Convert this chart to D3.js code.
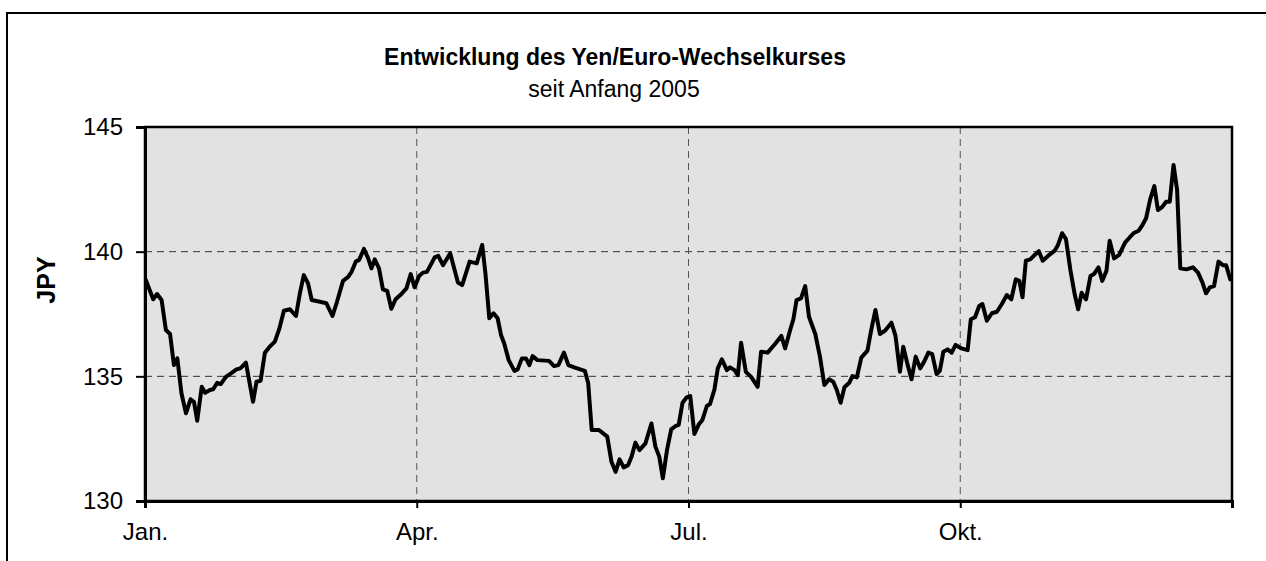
<!DOCTYPE html>
<html lang="de">
<head>
    <meta charset="UTF-8">
    <title>Entwicklung des Yen/Euro-Wechselkurses</title>
    <script src="https://d3js.org/d3.v7.min.js"></script>
    <style>
        body { margin: 0; background: #fff; font-family: "Liberation Sans", Arial, sans-serif; }
        svg { display: block; }
    </style>
</head>
<body>
<div id="chart"></div>
<script>
// days since 1 Jan 2005 and JPY per EUR
const days = [0.3,2.7,4.0,5.5,6.9,8.3,9.6,10.7,12.1,13.6,15.1,16.2,17.3,18.8,19.9,21.5,22.6,23.9,25.1,26.8,
    28.7,30.3,31.6,33.4,35.8,36.9,38.3,39.7,41.1,43.0,44.4,46.0,48.0,50.0,51.3,52.6,54.0,55.2,57.9,60.1,
    62.1,63.6,65.6,67.3,68.4,69.8,70.9,72.5,73.9,75.0,76.1,77.5,78.8,80.2,81.6,83.0,84.9,86.6,88.0,89.3,
    90.8,92.1,93.4,96.0,97.2,98.8,101.2,103.8,105.2,107.7,110.1,111.9,113.0,114.3,115.7,117.1,118.2,119.3,120.8,122.7,
    123.8,125.2,126.6,127.7,128.8,130.4,134.3,136.0,137.4,139.3,140.8,142.7,146.3,147.4,148.6,151.0,153.8,155.2,156.6,157.9,
    159.3,160.8,161.9,163.2,164.6,166.6,168.6,169.9,171.2,172.4,173.8,175.2,176.6,177.7,179.0,180.4,
    181.6,183.0,184.6,185.7,187.2,188.3,189.8,190.9,192.3,194.0,195.1,196.6,197.7,198.8,200.4,202.2,204.4,205.6,207.8,210.3,
    212.4,213.7,215.4,216.5,217.6,219.1,220.5,221.8,223.9,225.5,227.0,228.6,230.0,231.2,232.5,233.8,235.4,236.5,238.0,239.5,
    241.6,242.9,244.3,245.8,247.5,249.7,251.1,252.6,253.7,255.2,256.5,257.9,259.4,260.8,262.2,263.5,265.0,266.1,267.3,268.7,
    270.1,271.4,
    273.4,275.5,276.6,278.0,279.4,280.5,282.0,283.7,285.4,287.1,288.8,290.3,291.8,293.0,294.1,295.2,296.7,298.2,299.6,300.9,
    302.7,305.0,306.1,307.5,308.8,310.3,311.8,312.9,314.1,315.6,317.1,318.3,319.8,321.1,322.5,323.6,325.1,326.8,328.8,330.4,
    331.9,333.4,334.5,335.9,337.3,338.7,339.9,341.4,342.7,343.9,345.2,346.4,347.5,349.6,351.8,353.5,355.0,356.2,357.5,358.9,
    360.4,361.9,363.0,364.4];

const rates = [138.86,138.09,138.3,138.06,136.86,136.7,135.45,135.72,134.31,133.52,134.08,133.98,133.22,134.58,134.34,134.45,134.48,134.74,134.69,134.98,
    135.14,135.28,135.32,135.55,133.98,134.78,134.82,135.95,136.16,136.39,136.88,137.63,137.69,137.42,138.33,139.06,138.73,138.06,137.99,137.93,
    137.42,137.99,138.83,138.99,139.19,139.6,139.67,140.11,139.73,139.33,139.69,139.33,138.49,138.43,137.71,138.09,138.3,138.53,139.1,138.57,
    139.02,139.16,139.19,139.77,139.83,139.46,139.93,138.76,138.66,139.6,139.53,140.27,139.13,137.33,137.53,137.33,136.66,136.32,135.65,135.22,
    135.28,135.72,135.72,135.45,135.81,135.65,135.62,135.41,135.45,135.95,135.45,135.36,135.22,134.72,132.85,132.85,132.58,131.57,131.17,131.67,
    131.35,131.44,131.77,132.34,132.04,132.31,133.11,132.18,131.78,130.91,132.04,132.87,133.0,133.05,133.94,134.16,
    134.21,132.69,133.09,133.25,133.81,133.89,134.48,135.32,135.68,135.25,135.36,135.25,135.05,136.35,135.18,134.98,134.58,135.99,135.95,136.3,
    136.62,136.12,136.86,137.29,138.06,138.13,138.62,137.39,136.7,135.79,134.65,134.88,134.78,134.45,133.94,134.56,134.74,135.01,134.96,135.75,
    136.03,136.89,137.66,136.7,136.83,137.15,136.62,135.18,136.19,135.45,134.88,135.79,135.32,135.59,135.95,135.89,135.09,135.22,135.99,136.08,
    135.95,136.26,
    136.12,136.05,137.29,137.37,137.82,137.9,137.23,137.53,137.59,137.9,138.26,138.09,138.89,138.83,138.17,139.64,139.69,139.87,140.02,139.64,
    139.83,140.04,140.27,140.74,140.5,139.26,138.26,137.69,138.35,138.09,139.02,139.1,139.37,138.83,139.23,140.44,139.73,139.87,140.36,140.58,
    140.76,140.84,141.03,141.34,142.1,142.63,141.67,141.8,142.0,142.0,143.48,142.47,139.33,139.29,139.37,139.16,138.76,138.33,138.57,138.62,
    139.6,139.46,139.46,138.89];

const quarterStarts = ["2005-01-01", "2005-04-01", "2005-07-01", "2005-10-01", "2006-01-01"];
const quarterLabels = ["Jan.", "Apr.", "Jul.", "Okt."];
const yTicks = [130, 135, 140, 145];
const yGrid = [135, 140];

const width = 1266, height = 561;
const margin = { top: 127, right: 34, bottom: 60, left: 145 };
const font = '"Liberation Sans", Arial, sans-serif';

const parse = d3.utcParse("%Y-%m-%d");
const start = parse(quarterStarts[0]);
const data = days.map((d, i) => ({ date: d3.utcHour.offset(start, Math.round(d * 24)), value: rates[i] }));

const svg = d3.select("#chart").append("svg")
    .attr("width", width)
    .attr("height", height);

// outer chart frame (runs past the right and bottom edges)
svg.append("path")
    .attr("d", `M7,${height} V13 H${width}`)
    .attr("fill", "none")
    .attr("stroke", "#000")
    .attr("stroke-width", 2);

// quarters are spaced evenly on the axis
const x = d3.scaleUtc()
    .domain(quarterStarts.map(parse))
    .range([0, 1, 2, 3, 4].map(i => margin.left + i * (width - margin.right - margin.left) / 4));

const y = d3.scaleLinear()
    .domain([130, 145])
    .range([height - margin.bottom, margin.top]);

const x0 = margin.left, x1 = width - margin.right;
const y0 = height - margin.bottom, y1 = margin.top;

svg.append("rect")
    .attr("x", x0).attr("y", y1)
    .attr("width", x1 - x0).attr("height", y0 - y1)
    .attr("fill", "#e2e2e2");

// dashed gridlines
svg.selectAll(".hgrid").data(yGrid).enter().append("line")
    .attr("x1", x0).attr("x2", x1)
    .attr("y1", d => y(d)).attr("y2", d => y(d))
    .attr("stroke", "#333").attr("stroke-width", 1)
    .attr("stroke-dasharray", "7,5");

svg.selectAll(".vgrid").data(quarterStarts.slice(1, 4)).enter().append("line")
    .attr("x1", d => x(parse(d))).attr("x2", d => x(parse(d)))
    .attr("y1", y1).attr("y2", y0)
    .attr("stroke", "#555").attr("stroke-width", 1)
    .attr("stroke-dasharray", "7,5");

// the rate line
const line = d3.line()
    .x(d => x(d.date))
    .y(d => y(d.value));

svg.append("path")
    .datum(data)
    .attr("d", line)
    .attr("fill", "none")
    .attr("stroke", "#000")
    .attr("stroke-width", 4)
    .attr("stroke-linejoin", "round")
    .attr("stroke-linecap", "round");

// plot frame
svg.append("rect")
    .attr("x", x0).attr("y", y1)
    .attr("width", x1 - x0).attr("height", y0 - y1)
    .attr("fill", "none")
    .attr("stroke", "#000")
    .attr("stroke-width", 2.5);

// y axis
const yAxis = svg.append("g")
    .attr("transform", `translate(${x0},0)`)
    .call(d3.axisLeft(y).tickValues(yTicks).tickSize(9).tickPadding(13));
yAxis.select(".domain").attr("stroke-width", 3);
yAxis.selectAll(".tick line").attr("stroke-width", 2);
yAxis.selectAll("text")
    .attr("font-family", font)
    .attr("font-size", 24)
    .attr("fill", "#000");

// x axis
const xAxis = svg.append("g")
    .attr("transform", `translate(0,${y0})`)
    .call(d3.axisBottom(x)
        .tickValues(quarterStarts.slice(0, 4).map(parse))
        .tickFormat((d, i) => quarterLabels[i])
        .tickSize(7).tickPadding(15));
xAxis.select(".domain").attr("stroke-width", 3);
xAxis.selectAll(".tick line").attr("stroke-width", 2);
xAxis.selectAll("text")
    .attr("font-family", font)
    .attr("font-size", 24)
    .attr("fill", "#000");

// titles
svg.append("text")
    .attr("x", 615).attr("y", 65)
    .attr("text-anchor", "middle")
    .attr("font-family", font)
    .attr("font-size", 23)
    .attr("font-weight", "bold")
    .text("Entwicklung des Yen/Euro-Wechselkurses");

svg.append("text")
    .attr("x", 614).attr("y", 97)
    .attr("text-anchor", "middle")
    .attr("font-family", font)
    .attr("font-size", 23)
    .text("seit Anfang 2005");

svg.append("text")
    .attr("transform", "translate(55,280) rotate(-90)")
    .attr("text-anchor", "middle")
    .attr("font-family", font)
    .attr("font-size", 25)
    .attr("font-weight", "bold")
    .text("JPY");
</script>
</body>
</html>
